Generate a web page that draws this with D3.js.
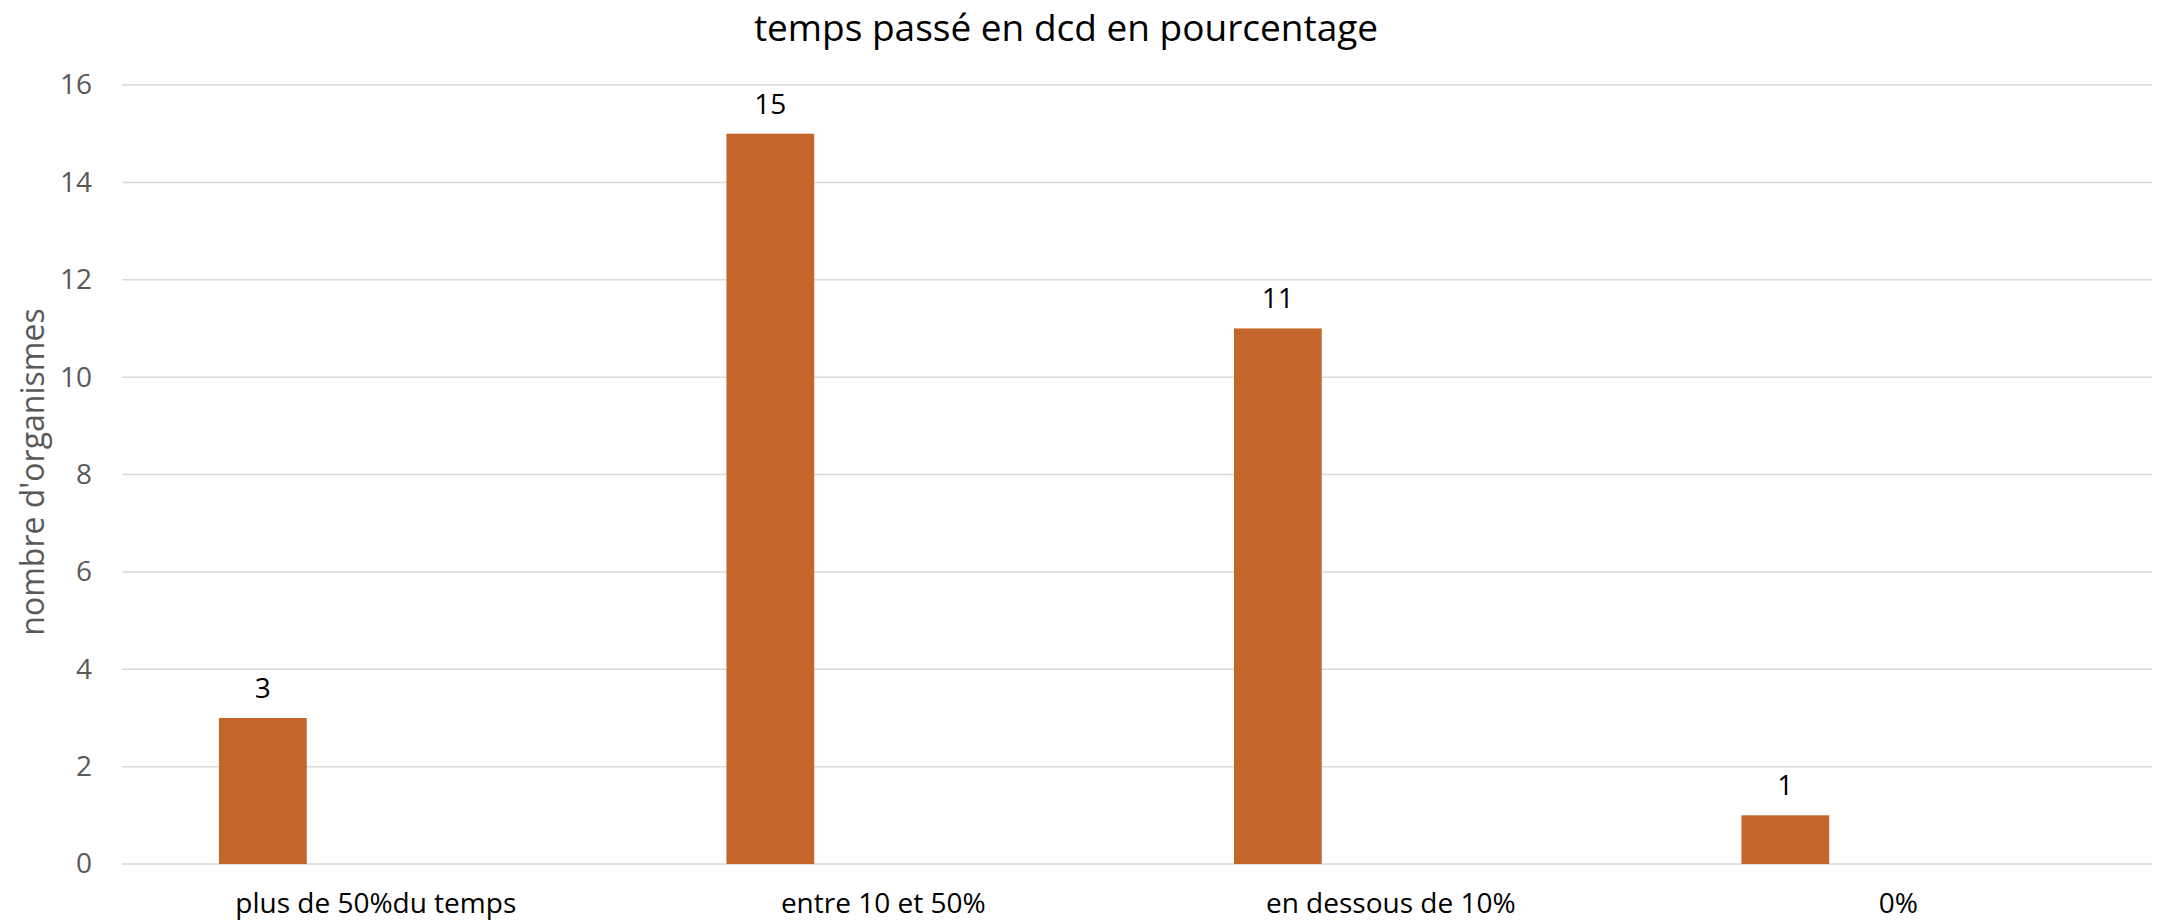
<!DOCTYPE html>
<meta charset="utf-8" />
<script src="https://d3js.org/d3.v7.min.js"></script>
<style>
	body { margin: 0; background: #fff; }
	text { font-family: 'Open Sans', sans-serif; }
</style>
<div id="chart"></div>
<script>
	// data
	var categories = ['plus de 50%du temps', 'entre 10 et 50%', 'en dessous de 10%', '0%'];
	var counts = [3, 15, 11, 1];
	var yTicks = [0, 2, 4, 6, 8, 10, 12, 14, 16];

	var width = 2157, height = 923;

	var svg = d3
		.select('#chart')
		.append('svg')
		.attr('width', width)
		.attr('height', height);

	var x = d3.scaleBand().domain(categories).range([122, 2152]).padding(0);
	var y = d3.scaleLinear().domain([0, 16]).range([864, 85]);

	// gridlines
	svg
		.append('g')
		.selectAll('line')
		.data(yTicks)
		.enter()
		.append('line')
		.attr('x1', 122)
		.attr('x2', 2152)
		.attr('y1', function (d) { return y(d); })
		.attr('y2', function (d) { return y(d); })
		.style('stroke', '#d9d9d9')
		.style('stroke-width', 1.5);

	// Y axis (labels only)
	var yAxis = svg
		.append('g')
		.attr('transform', 'translate(92,0)')
		.call(d3.axisLeft(y).tickValues(yTicks).tickSize(0).tickPadding(0));
	yAxis.select('.domain').remove();
	yAxis
		.selectAll('text')
		.style('font-family', "'Open Sans', sans-serif")
		.style('font-size', '28px')
		.style('fill', '#595959');

	// bars, shifted left inside each category like the original
	var bw = x.bandwidth();
	svg
		.append('g')
		.selectAll('rect')
		.data(counts)
		.enter()
		.append('rect')
		.attr('x', function (d, i) { return x(categories[i]) + bw * 0.191; })
		.attr('width', bw * 0.173)
		.attr('y', function (d) { return y(d); })
		.attr('height', function (d) { return y(0) - y(d); })
		.style('fill', '#c4652a');

	// value labels
	svg
		.append('g')
		.selectAll('text')
		.data(counts)
		.enter()
		.append('text')
		.attr('x', function (d, i) { return x(categories[i]) + bw * (0.191 + 0.173 / 2); })
		.attr('y', function (d) { return y(d) - 20; })
		.attr('text-anchor', 'middle')
		.style('font-size', '28px')
		.style('fill', '#000')
		.text(function (d) { return d; });

	// X axis labels
	var xAxis = svg
		.append('g')
		.attr('transform', 'translate(0,864)')
		.call(d3.axisBottom(x).tickSize(0).tickPadding(0));
	xAxis.select('.domain').remove();
	xAxis
		.selectAll('text')
		.attr('dy', null)
		.attr('y', 49)
		.style('font-family', "'Open Sans', sans-serif")
		.style('font-size', '28px')
		.style('fill', '#000');

	// title
	svg
		.append('text')
		.attr('x', 1066)
		.attr('y', 41)
		.attr('text-anchor', 'middle')
		.style('font-size', '37px')
		.style('fill', '#000')
		.text('temps passé en dcd en pourcentage');

	// Y label
	svg
		.append('text')
		.attr('text-anchor', 'middle')
		.attr('transform', 'translate(44,472)rotate(-90)')
		.style('font-size', '32px')
		.style('fill', '#595959')
		.text("nombre d'organismes");
</script>
